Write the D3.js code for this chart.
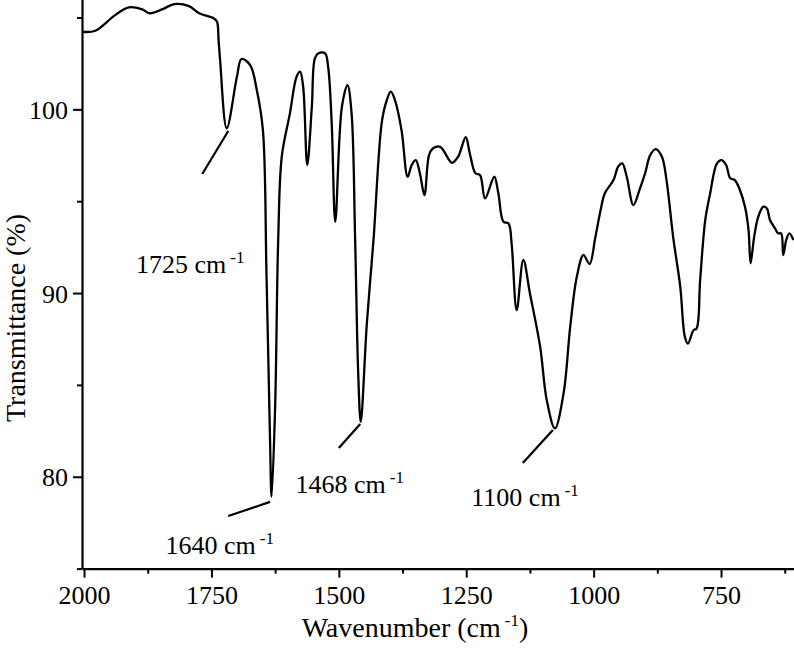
<!doctype html>
<html>
<head>
<meta charset="UTF-8">
<title>IR spectrum</title>
<script src="https://cdn.jsdelivr.net/npm/d3@7"></script>
<style>
    body{ margin:0; background:#fff; }
    svg{ display:block; }
    text{ font-family:"Liberation Serif","DejaVu Serif",serif; fill:#000; }
</style>
</head>
<body>
<svg id="chart" width="794" height="655"></svg>
<script>
// spectrum (cm-1, %)
var wavenumber = [2003,1978,1939,1912,1886,1871,1847,1823,1794,1774,
    1745,1739,1736,1733,1720,1700,1691,1674,1661,1649,
    1642,1635,1632,1625,1619,1612,1596,1583,1576,1570,
    1562,1553,1547,1540,1527,1521,1514,1507,1494,1483,
    1475,1468,1462,1457,1445,1432,1416,1407,1398,1390,
    1377,1365,1357,1349,1341,1332,1323,1315,1301,1278,
    1266,1251,1243,1232,1223,1213,1195,1187,1177,1167,
    1161,1151,1138,1125,1105,1092,1076,1059,1046,1033,
    1020,1008,997,987,978,961,952,944,935,922,
    909,899,889,878,866,857,844,830,821,815,
    804,798,791,781,772,758,749,740,732,723,
    713,703,696,692,685,677,667,660,654,644,
    638,632,628,622,616,608];
var transmittance = [104.22,104.28,105.13,105.55,105.44,105.23,105.44,105.73,105.62,105.23,
    104.95,104.77,103.77,102.68,98.97,101.77,102.74,102.41,101.05,98.87,
    91.09,81.99,78.91,83.81,92.89,97.42,99.78,101.77,102.05,101.23,
    96.97,100.14,102.78,103.05,103.05,102.32,99.24,93.88,100.14,101.32,
    99.78,92.88,85.64,82.99,88.37,92.88,99.24,100.41,100.96,100.51,
    98.87,96.33,96.97,97.24,96.52,95.33,97.51,97.88,97.96,97.09,
    97.42,98.48,97.60,96.52,96.42,95.15,96.33,95.43,93.88,93.79,
    92.70,89.07,91.80,89.98,87.08,84.17,82.63,84.54,88.16,90.89,
    92.07,91.58,92.98,94.43,95.43,96.15,96.88,97.06,96.33,94.79,
    95.70,96.52,97.51,97.84,97.42,96.15,93.06,90.34,87.62,87.25,
    87.98,88.07,90.71,93.97,95.33,97.06,97.24,96.97,96.25,96.15,
    95.61,94.70,93.43,91.62,93.06,94.15,94.70,94.61,93.98,93.52,
    93.25,93.25,92.07,92.89,93.25,92.89];

var xTicks = [2000,1750,1500,1250,1000,750];
var xMinorTicks = [1875,1625,1375,1125,875,625];
var yTicks = [80,90,100];
var yMinorTicks = [75,85,95,105];

// peak labels: text, leader line (from -> to), label anchor, all in data units
var peakText  = ["1725","1640","1468","1100"];
var lineFrom  = [[1768,96.48],[1717,77.86],[1500,81.57],[1139,80.75]];
var lineTo    = [[1717,98.82],[1635,78.63],[1458,82.87],[1080,82.55]];
var labelAt   = [[1898,91.10],[1840,75.80],[1585,79.10],[1240,78.40]];

var svg = d3.select("#chart");
var left = 82, bottom = 568.6;

var x = d3.scaleLinear().domain([2004, 604]).range([left, left + 1400*0.5096]);
var y = d3.scaleLinear().domain([75, 106]).range([bottom, bottom - 31*18.37]);

// axes
var gx = svg.append("g").attr("transform", "translate(0," + bottom + ")");
gx.call(d3.axisBottom(x).tickValues(xTicks).tickSize(9).tickSizeOuter(0).tickFormat(d3.format("d")));
gx.append("g").call(d3.axisBottom(x).tickValues(xMinorTicks).tickSize(5).tickFormat(""))
  .select(".domain").remove();
gx.selectAll("text").attr("y", 35).attr("dy", 0).style("font-size", "26px")
  .style("font-family", "Liberation Serif");

var gy = svg.append("g").attr("transform", "translate(" + left + ",0)");
gy.call(d3.axisLeft(y).tickValues(yTicks).tickSize(9).tickSizeOuter(0).tickFormat(d3.format("d")));
gy.append("g").call(d3.axisLeft(y).tickValues(yMinorTicks).tickSize(5).tickFormat(""))
  .select(".domain").remove();
gy.selectAll("text").attr("x", -14).attr("dy", "0.35em").style("font-size", "26px")
  .style("font-family", "Liberation Serif");

svg.selectAll(".domain").attr("stroke-width", 2.2);
svg.selectAll(".tick line").attr("stroke-width", 2);

// spectrum
var line = d3.line()
    .x(function(d, i){ return x(wavenumber[i]); })
    .y(function(d){ return y(d); })
    .curve(d3.curveCatmullRom.alpha(0.5));

svg.append("path")
   .attr("d", line(transmittance))
   .attr("fill", "none")
   .attr("stroke", "#000")
   .attr("stroke-width", 2.3)
   .attr("stroke-linejoin", "round");

// peak annotations
for (var i = 0; i < peakText.length; i++) {
    svg.append("line")
       .attr("x1", x(lineFrom[i][0])).attr("y1", y(lineFrom[i][1]))
       .attr("x2", x(lineTo[i][0])).attr("y2", y(lineTo[i][1]))
       .attr("stroke", "#000").attr("stroke-width", 2.2);
    var t = svg.append("text")
       .attr("x", x(labelAt[i][0])).attr("y", y(labelAt[i][1]))
       .style("font-size", "26px");
    t.append("tspan").text(peakText[i] + " cm");
    t.append("tspan").attr("dx", 4).attr("dy", -10).style("font-size", "17px").text("-1");
}

// axis titles
var xt = svg.append("text").attr("x", 415).attr("y", 637)
    .attr("text-anchor", "middle").style("font-size", "28px");
xt.append("tspan").text("Wavenumber (cm");
xt.append("tspan").attr("dx", 4).attr("dy", -11).style("font-size", "17px").text("-1");
xt.append("tspan").attr("dy", 11).text(")");

svg.append("text")
   .attr("transform", "translate(25,318) rotate(-90)")
   .attr("text-anchor", "middle")
   .style("font-size", "28px")
   .text("Transmittance (%)");
</script>
</body>
</html>
